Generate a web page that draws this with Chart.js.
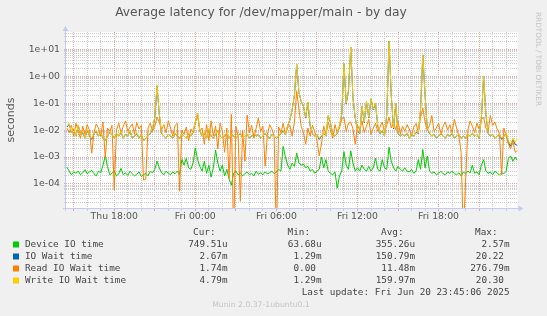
<!DOCTYPE html>
<html>
<head>
<meta charset="utf-8">
<script src="https://cdn.jsdelivr.net/npm/chart.js@4"></script>
<style>
  html, body { margin: 0; padding: 0; background: #f0f0f0; }
  canvas { display: block; }
</style>
</head>
<body>
<canvas id="c" width="547" height="316"></canvas>
<script>
// samples every 10 minutes, first one Thu 14:30 (hours counted from Thu 00:00)
const startHour = 14.5;
const stepHours = 1 / 6;

// values in milliseconds
const deviceMs = [
  0.42, 0.3, 0.22, 0.28, 0.25, 0.3, 0.22, 0.26, 0.34, 0.24,
  0.28, 0.32, 0.24, 0.2, 0.3, 0.26, 0.5, 1.1, 0.45, 0.22,
  0.25, 0.3, 0.2, 0.24, 0.38, 0.22, 0.26, 0.21, 0.3, 0.24,
  0.2, 0.23, 0.28, 0.19, 0.22, 0.25, 0.2, 0.3, 0.26, 0.35,
  0.7, 0.4, 0.26, 0.22, 0.3, 0.25, 0.22, 0.28, 0.24, 0.3,
  0.22, 0.8, 0.5, 0.9, 0.4, 0.35, 0.6, 2.2, 0.8, 0.45,
  0.3, 0.7, 0.25, 0.5, 0.18, 0.4, 1.8, 0.6, 0.3, 0.5,
  0.2, 0.35, 0.15, 0.09, 0.25, 0.3, 0.22, 0.26, 0.2, 0.24,
  0.28, 0.22, 0.25, 0.2, 0.3, 0.23, 0.26, 0.22, 0.28, 0.24,
  0.26, 0.3, 0.24, 0.28, 0.35, 0.3, 2.5, 1.0, 0.5, 0.35,
  0.6, 0.45, 1.4, 0.6, 0.5, 0.55, 0.4, 0.45, 0.3, 0.35,
  0.25, 0.3, 0.35, 1.0, 0.4, 0.8, 0.3, 0.25, 0.22, 0.28,
  0.07, 0.2, 0.3, 1.6, 0.5, 0.35, 1.7, 0.6, 0.3, 0.4,
  0.3, 0.5, 0.35, 0.3, 0.45, 0.3, 0.4, 0.9, 0.35, 0.3,
  0.8, 0.4, 0.35, 2.3, 0.7, 0.4, 0.3, 0.45, 0.35, 0.3,
  0.4, 0.3, 0.28, 0.35, 0.25, 0.3, 0.8, 0.35, 1.9, 0.4,
  1.1, 0.3, 0.25, 0.28, 0.22, 0.25, 0.3, 0.24, 0.22, 0.28,
  0.25, 0.3, 0.24, 0.22, 0.26, 0.2, 0.28, 0.24, 0.3, 0.26,
  0.5, 0.25, 0.28, 0.22, 0.5, 0.8, 0.3, 0.25, 0.28, 0.22,
  0.3, 0.25, 0.22, 0.26, 0.24, 0.3, 0.9, 1.1, 0.7, 1.0,
  0.75
];
const ioWaitMs = [
  13, 17, 8, 11, 6, 15, 7, 8, 5, 10,
  6, 4.5, 7, 9, 6, 8, 5, 4, 6, 8.5,
  7, 5, 7.5, 6, 8.5, 5, 7, 6, 9.5, 5,
  6, 7.5, 5, 7, 4, 5, 6, 7.5, 11, 28,
  440, 38, 7.5, 6, 5, 7, 6, 5, 7.5, 6,
  5, 7, 6, 5, 7.5, 6, 8.5, 19, 41, 9.5,
  6, 7.5, 5, 11, 6, 5, 7, 9.5, 6, 5,
  6, 7.5, 5, 7, 6, 5, 6, 7.5, 5, 6,
  7, 5, 6, 7.5, 6, 7, 5, 6, 7.5, 6,
  5, 7, 6, 5, 6, 7.5, 9.5, 7, 14, 24,
  58, 195, 2850, 245, 115, 78, 28, 105, 14, 7.5,
  6, 7, 4.5, 6, 7.5, 6, 34, 19, 7, 6,
  7.5, 14, 38, 2950, 95, 290, 11900, 145, 28, 9.5,
  7.5, 78, 19, 115, 28, 145, 58, 95, 14, 7.5,
  9.5, 6, 38, 20200, 190, 11, 95, 7.5, 6, 7,
  6, 7.5, 5, 7, 6, 8.5, 7.5, 58, 6200, 190,
  11, 7.5, 6, 7, 5, 6, 7.5, 6, 5, 7,
  6, 7.5, 5, 6, 7, 5, 6, 5, 7, 6,
  7.5, 6, 7, 5, 28, 980, 38, 7.5, 6, 7,
  5, 6, 7, 4.5, 6, 7.5, 3.5, 2.5, 4.5, 3,
  2.67
];
const readMs = [
  12, 8, 15, 6, 18, 9, 5, 14, 7, 16,
  10, 1.4, 8, 17, 12, 6, 20, 0.9, 12, 9,
  15, 0.06, 10, 18, 8, 14, 22, 9, 13, 17,
  7, 19, 11, 15, 0.14, 0.15, 12, 18, 9, 14,
  30, 20, 10, 16, 8, 22, 12, 6, 15, 18,
  0.054, 10, 7, 13, 4, 11, 8, 20, 35, 9,
  12, 3, 16, 4, 22, 6, 14, 2, 18, 9,
  1.5, 12, 0.16, 39, 0.001, 14, 6, 0.023, 10, 0.7,
  36, 8, 15, 5, 12, 28, 9, 14, 0.46, 7,
  16, 11, 6, 0.001, 13, 8, 18, 7, 12, 15,
  6, 20, 277, 60, 14, 8, 3, 12, 6, 15,
  9, 4, 1.1, 3, 14, 7, 20, 10, 5, 16,
  8, 12, 25, 30, 9, 18, 20, 11, 3, 15,
  10, 22, 8, 14, 25, 7, 12, 18, 9, 13,
  20, 8, 15, 30, 12, 18, 10, 22, 7, 14,
  9, 16, 11, 6, 13, 18, 8, 30, 66, 20,
  10, 15, 35, 9, 12, 18, 7, 14, 20, 10,
  16, 8, 25, 12, 6, 1.5, 0.001, 0.13, 10, 22,
  14, 8, 18, 11, 25, 30, 12, 9, 35, 15,
  20, 11, 8, 0.22, 12, 6, 3, 2, 4, 1.5,
  1.74
];
const writeMs = [
  14, 18, 8, 12, 6, 16, 7, 9, 5, 11,
  6, 5, 7, 10, 6, 8, 5, 4, 6, 9,
  7, 5, 8, 6, 9, 5, 7, 6, 10, 5,
  6, 8, 5, 7, 4, 5, 6, 8, 12, 30,
  460, 40, 8, 6, 5, 7, 6, 5, 8, 6,
  5, 7, 6, 5, 8, 6, 9, 20, 43, 10,
  6, 8, 5, 12, 6, 5, 7, 10, 6, 5,
  6, 8, 5, 7, 6, 5, 6, 8, 5, 6,
  7, 5, 6, 8, 6, 7, 5, 6, 8, 6,
  5, 7, 6, 5, 6, 8, 10, 7, 15, 25,
  60, 200, 2900, 250, 120, 80, 30, 110, 15, 8,
  6, 7, 5, 6, 8, 6, 36, 20, 7, 6,
  8, 15, 40, 3000, 100, 300, 12000, 150, 30, 10,
  8, 80, 20, 120, 30, 150, 60, 100, 15, 8,
  10, 6, 40, 20000, 200, 12, 100, 8, 6, 7,
  6, 8, 5, 7, 6, 9, 8, 60, 6300, 200,
  12, 8, 6, 7, 5, 6, 8, 6, 5, 7,
  6, 8, 5, 6, 7, 5, 6, 5, 7, 6,
  8, 6, 7, 5, 30, 1000, 40, 8, 6, 7,
  5, 6, 7, 5, 6, 8, 4, 3, 5, 3.5,
  4.79
];

const seriesNames = ['Device IO time', 'IO Wait time', 'Read IO Wait time', 'Write IO Wait time'];
const seriesColors = ['#00cc00', '#0066b3', '#ff8000', '#ffcc00'];
const curValues = ['749.51u', '2.67m', '1.74m', '4.79m'];
const minValues = ['63.68u', '1.29m', '0.00 ', '1.29m'];
const avgValues = ['355.26u', '150.79m', '11.48m', '159.97m'];
const maxValues = ['2.57m', '20.22 ', '276.79m', '20.30 '];

const hours = deviceMs.map((_, i) => startHour + i * stepHours);
const toPoints = arr => arr.map((v, i) => ({ x: hours[i], y: v / 1000 }));

const RED_GRID = '#eaa4a4';
const GRAY_GRID = '#cdcdcd';
const AXIS = '#c4caf4';
const TXT = '#555';

function expLabel(v) {
  const e = Math.round(Math.log10(v));
  return '1e' + (e < 0 ? '-' : '+') + String(Math.abs(e)).padStart(2, '0');
}
function isDecade(v) {
  const l = Math.log10(v);
  return Math.abs(l - Math.round(l)) < 1e-9;
}

const muninDecor = {
  id: 'muninDecor',
  beforeDraw(chart) {
    const { ctx, chartArea: a } = chart;
    ctx.save();
    ctx.fillStyle = '#f0f0f0';
    ctx.fillRect(0, 0, chart.width, chart.height);
    ctx.fillStyle = '#ffffff';
    ctx.fillRect(a.left, a.top, a.right - a.left, a.bottom - a.top);
    ctx.restore();
  },
  afterDraw(chart) {
    const { ctx, chartArea: a } = chart;
    ctx.save();
    // axes with arrows
    ctx.strokeStyle = AXIS;
    ctx.fillStyle = AXIS;
    ctx.lineWidth = 1;
    ctx.beginPath();
    ctx.moveTo(a.left - 0.5, a.bottom + 3);
    ctx.lineTo(a.left - 0.5, a.top - 2);
    ctx.moveTo(a.left - 3, a.bottom + 0.5);
    ctx.lineTo(a.right + 2, a.bottom + 0.5);
    ctx.stroke();
    ctx.beginPath();
    ctx.moveTo(a.left - 3.5, a.top - 1);
    ctx.lineTo(a.left + 2.5, a.top - 1);
    ctx.lineTo(a.left - 0.5, a.top - 6);
    ctx.fill();
    ctx.beginPath();
    ctx.moveTo(a.right + 1, a.bottom - 2.5);
    ctx.lineTo(a.right + 1, a.bottom + 3.5);
    ctx.lineTo(a.right + 6, a.bottom + 0.5);
    ctx.fill();

    // title
    ctx.fillStyle = TXT;
    ctx.font = '12.3px "DejaVu Sans"';
    ctx.textAlign = 'center';
    ctx.textBaseline = 'middle';
    ctx.fillText('Average latency for /dev/mapper/main - by day', 261, 13);

    // vertical axis title
    ctx.save();
    ctx.translate(11, 120);
    ctx.rotate(-Math.PI / 2);
    ctx.font = '11px "DejaVu Sans"';
    ctx.fillText('seconds', 0, 0);
    ctx.restore();

    // rrdtool watermark
    ctx.save();
    ctx.translate(538, 12);
    ctx.rotate(Math.PI / 2);
    ctx.textAlign = 'left';
    ctx.fillStyle = '#c4c4c4';
    ctx.font = '7.3px "DejaVu Sans"';
    ctx.fillText('RRDTOOL / TOBI OETIKER', 0, 0);
    ctx.restore();

    // legend
    ctx.font = '9.33px "DejaVu Sans Mono"';
    ctx.fillStyle = '#444';
    ctx.textAlign = 'right';
    ctx.fillText('Cur:', 215.5, 232.5);
    ctx.fillText('Min:', 310, 232.5);
    ctx.fillText('Avg:', 403.5, 232.5);
    ctx.fillText('Max:', 497.5, 232.5);
    const rowY = [244.5, 256.5, 268.5, 280.5];
    seriesNames.forEach((name, i) => {
      const y = rowY[i];
      ctx.fillStyle = seriesColors[i];
      ctx.fillRect(13, y - 3, 6, 6);
      ctx.fillStyle = '#444';
      ctx.textAlign = 'left';
      ctx.fillText(name, 25, y);
      ctx.textAlign = 'right';
      ctx.fillText(curValues[i], 227.5, y);
      ctx.fillText(minValues[i], 321.5, y);
      ctx.fillText(avgValues[i], 415, y);
      ctx.fillText(maxValues[i], 509.5, y);
    });
    ctx.fillText('Last update: Fri Jun 20 23:45:06 2025', 509.5, 292.5);

    ctx.textAlign = 'center';
    ctx.fillStyle = '#c4c4c4';
    ctx.font = '7.7px "DejaVu Sans"';
    ctx.fillText('Munin 2.0.37-1ubuntu0.1', 261, 305.5);
    ctx.restore();
  }
};

const lineSet = (label, arr, color, order) => ({
  label, data: toPoints(arr), borderColor: color, backgroundColor: color,
  borderWidth: 1, pointRadius: 0, tension: 0, order
});

new Chart(document.getElementById('c'), {
  type: 'line',
  data: {
    datasets: [
      lineSet(seriesNames[0], deviceMs, seriesColors[0], 3),
      lineSet(seriesNames[1], ioWaitMs, seriesColors[1], 2),
      lineSet(seriesNames[2], readMs, seriesColors[2], 1),
      lineSet(seriesNames[3], writeMs, seriesColors[3], 0),
    ]
  },
  options: {
    responsive: false,
    devicePixelRatio: 1,
    animation: false,
    events: [],
    layout: { padding: { top: 32, right: 29.5, bottom: 0, left: 0 } },
    plugins: { legend: { display: false }, title: { display: false }, tooltip: { enabled: false } },
    scales: {
      x: {
        type: 'linear',
        min: 14.43,
        max: 47.84,
        afterBuildTicks: s => {
          const t = [];
          for (let h = 15; h <= 47; h++) t.push({ value: h });
          s.ticks = t;
        },
        afterFit: s => { s.height = 108; },
        grid: {
          color: c => (c.tick && c.tick.value % 3 === 0 ? RED_GRID : GRAY_GRID),
          tickLength: 3,
          lineWidth: 1
        },
        border: { display: false, dash: [1, 1] },
        ticks: {
          autoSkip: false,
          maxRotation: 0,
          padding: 0,
          color: TXT,
          font: { family: 'DejaVu Sans', size: 9.33 },
          callback: v => {
            if (v % 6 !== 0) return '';
            const day = v < 24 ? 'Thu' : 'Fri';
            const hh = String(v % 24).padStart(2, '0');
            return day + ' ' + hh + ':00';
          }
        }
      },
      y: {
        type: 'logarithmic',
        min: 1.285e-5,
        max: 43.9,
        afterBuildTicks: s => {
          const t = [];
          for (let e = -5; e <= 1; e++) {
            for (let m = 1; m <= 9; m++) {
              const v = m * Math.pow(10, e);
              if (v >= s.min && v <= s.max) t.push({ value: v });
            }
          }
          s.ticks = t;
        },
        afterFit: s => { s.width = 66; },
        grid: {
          color: c => (c.tick && isDecade(c.tick.value) ? RED_GRID : GRAY_GRID),
          tickLength: 2,
          lineWidth: 1
        },
        border: { display: false, dash: [1, 1] },
        ticks: {
          autoSkip: false,
          padding: 4,
          color: TXT,
          font: { family: 'DejaVu Sans', size: 9.33 },
          callback: v => (isDecade(v) ? expLabel(v) : '')
        }
      }
    }
  },
  plugins: [muninDecor]
});
</script>
</body>
</html>
